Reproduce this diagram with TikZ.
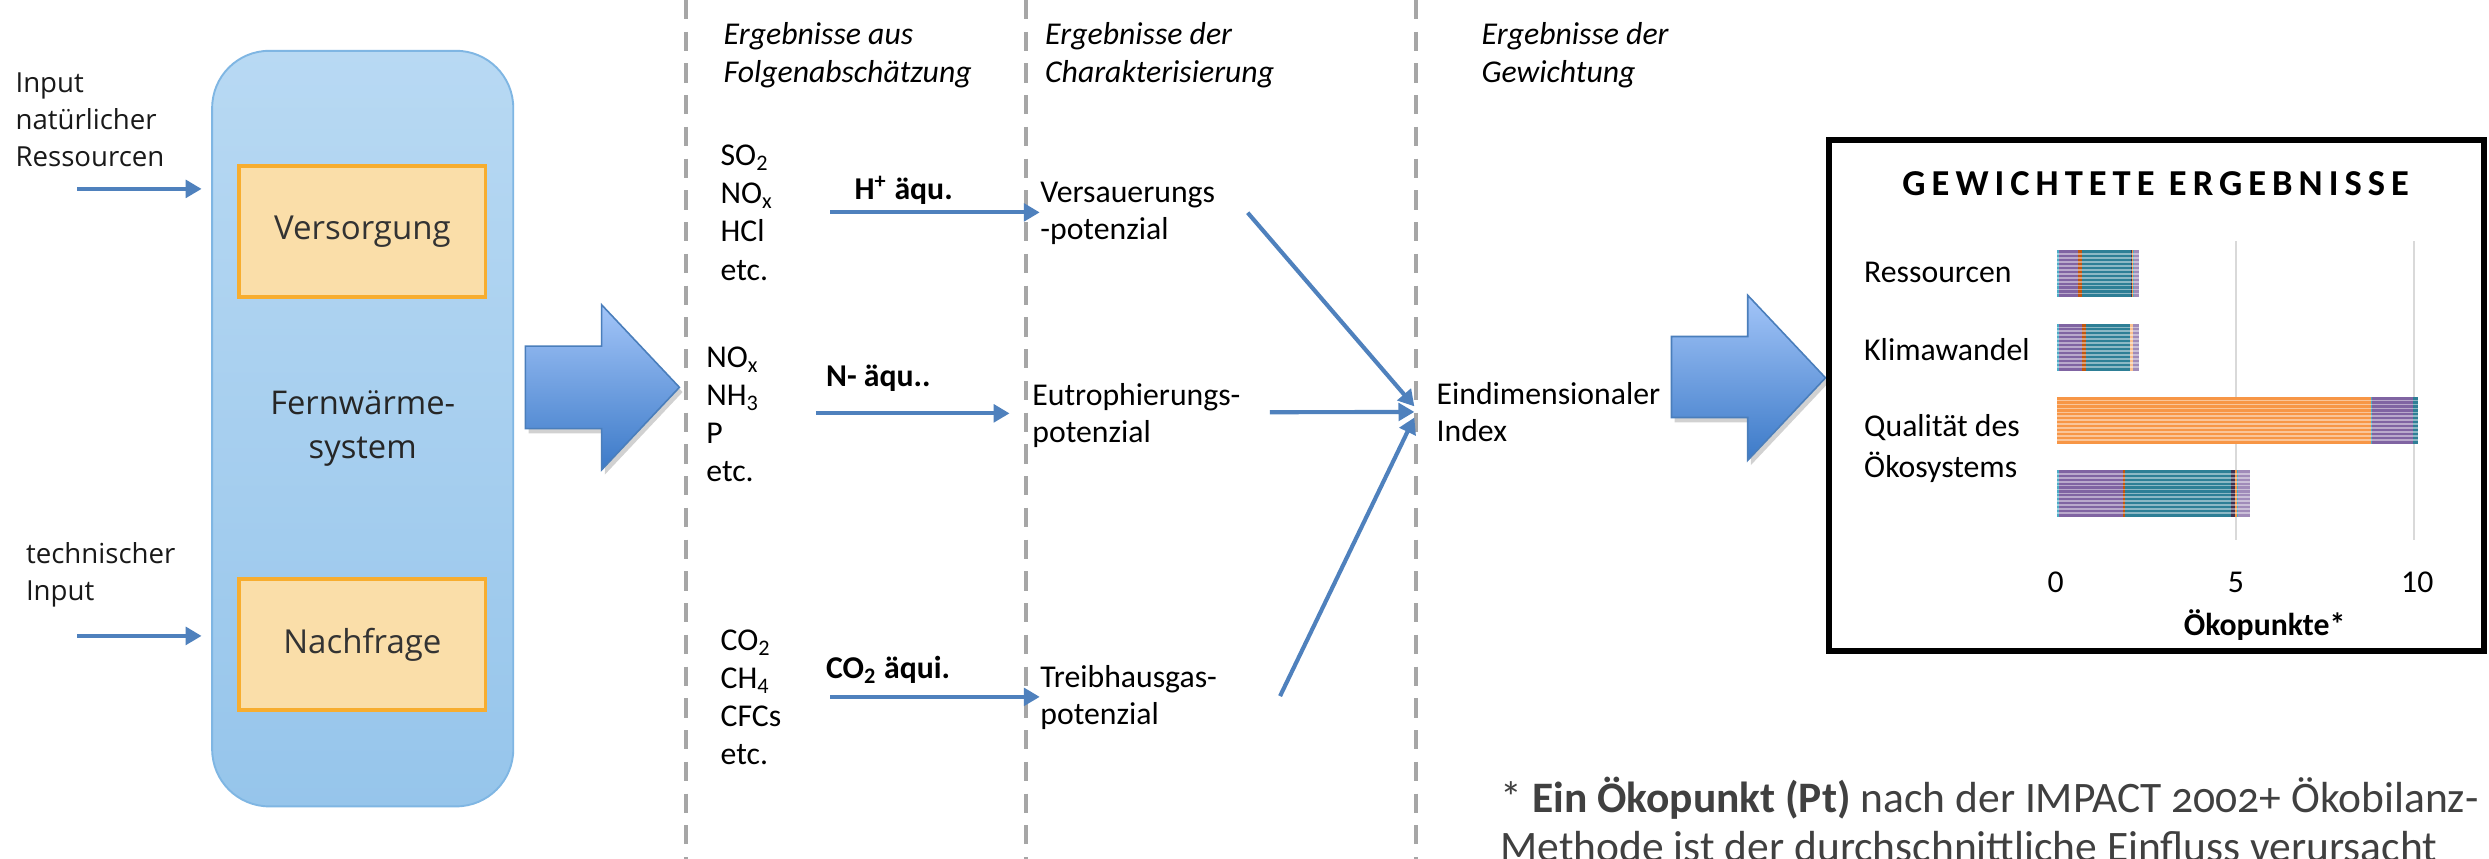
\documentclass[tikz,border=0pt]{standalone}
\usepackage{fontspec}
\setmainfont{Carlito}
\newfontfamily\leftfont{Open Sans}
\newfontfamily\fnfont[Numbers=OldStyle]{Carlito}
\usetikzlibrary{arrows.meta}

\definecolor{flowblue}{HTML}{4F81BD}
\definecolor{dashgray}{HTML}{A6A6A6}
\definecolor{sysTop}{HTML}{B8D9F3}
\definecolor{sysBot}{HTML}{96C5EB}
\definecolor{sysBorder}{HTML}{7FB6E3}
\definecolor{boxFill}{HTML}{FADEA9}
\definecolor{boxBorder}{HTML}{F7AD2F}
\definecolor{bigTop}{HTML}{A3C5F8}
\definecolor{bigBot}{HTML}{3C7AC8}
\definecolor{bigBorder}{HTML}{4A7EBB}
\definecolor{cPurple}{HTML}{8064A2}
\definecolor{cTeal}{HTML}{2E7F96}
\definecolor{cOrange}{HTML}{F79646}
\definecolor{cDarkOrange}{HTML}{C0560F}
\definecolor{cCyan}{HTML}{4BACC6}
\definecolor{cDarkPurple}{HTML}{3F3151}
\definecolor{cLightOrange}{HTML}{FAC08F}
\definecolor{gridgray}{HTML}{D9D9D9}
\definecolor{fngray}{HTML}{404040}

\tikzset{
  flow/.style={draw=flowblue, line width=1.3pt, -{Triangle[length=5pt,width=5.5pt]}},
  sepline/.style={draw=dashgray, line width=1.3pt, dash pattern=on 6pt off 4pt},
  txt/.style={inner sep=0pt, anchor=west, align=left, font=\fontsize{10}{12}\selectfont},
  txttwo/.style={inner sep=0pt, anchor=west, align=left, font=\fontsize{10}{11.7}\selectfont},
  head/.style={inner sep=0pt, anchor=west, align=left, font=\itshape\fontsize{10}{12}\selectfont},
  eqlabel/.style={inner sep=0pt, anchor=west, font=\bfseries\fontsize{10}{12}\selectfont},
  ltxt/.style={inner sep=0pt, anchor=west, align=left, font=\leftfont\fontsize{8.7}{11.7}\selectfont, text=black!90},
  orbox/.style={draw=boxBorder, line width=1.1pt, fill=boxFill, minimum width=77.7pt, minimum height=41.25pt, inner sep=0pt, font=\leftfont\fontsize{10.4}{12}\selectfont, text=black!80},
  sysbox/.style={draw=sysBorder, line width=0.6pt, top color=sysTop, bottom color=sysBot, rounded corners=18pt, minimum width=94.85pt, minimum height=238pt, inner sep=0pt, align=center, font=\leftfont\fontsize{10.3}{13.75}\selectfont, text=black!85},
  bigarrow/.style={top color=bigTop, bottom color=bigBot, draw=bigBorder, line width=0.5pt},
  arrowshadow/.style={fill=black, opacity=0.18},
  clabel/.style={inner sep=0pt, anchor=west, align=left, font=\fontsize{10}{12.75}\selectfont},
  tick/.style={inner sep=0pt, font=\fontsize{10}{12}\selectfont},
  stripe/.style={draw=white, opacity=0.45, line width=0.55pt},
  fntext/.style={inner sep=0pt, anchor=base west, font=\fnfont\fontsize{13.7}{16}\selectfont, text=fngray}
}

\newcommand\hbarseg[4]{\fill[#4] (#1,#3) rectangle (#2,#3+29.6);}

\begin{document}
\begin{tikzpicture}[x=0.5pt,y=-0.5pt]
\useasboundingbox (0,0) rectangle (1568,541);
\clip (0,0) rectangle (1568,541);
\fill[white] (0,0) rectangle (1568,541);

% separators
\draw[sepline] (432,0) -- (432,541);
\draw[sepline] (646.5,0) -- (646.5,541);
\draw[sepline] (892,0) -- (892,541);

% ---------------- left part
\node[sysbox] (sys) at (228.5,270) {Fernwärme-\\system};
\node[orbox] (vers) at (228.3,145.8) {Versorgung};
\node[orbox] (nach) at (228.3,406) {Nachfrage};

\node[ltxt] (inNat) at (9.4,75.4) {Input\\natürlicher\\Ressourcen};
\node[ltxt] (inTech) at (16,362) {technischer\\Input};
\coordinate (a1s) at (48.7,119);
\coordinate (a1e) at (127,119);
\coordinate (a2s) at (48.7,400.6);
\coordinate (a2e) at (127,400.6);
\draw[flow] (a1s) -- (a1e);
\draw[flow] (a2s) -- (a2e);

% big block arrow 1
\fill[arrowshadow] (333,221) -- (381,221) -- (381,195) -- (430,247) -- (381,299) -- (381,273) -- (333,273) -- cycle;
\shadedraw[bigarrow] (331,218) -- (379,218) -- (379,192) -- (428,244) -- (379,296) -- (379,270) -- (331,270) -- cycle;

% ---------------- column 1
\node[head] (h1) at (455.5,35) {Ergebnisse aus\\Folgenabschätzung};
\node[txt] (g1) at (453.6,134) {SO\textsubscript{2}\\NO\textsubscript{x}\\HCl\\etc.};
\node[txt] (g2) at (444.6,261) {NO\textsubscript{x}\\NH\textsubscript{3}\\P\\etc.};
\node[txt] (g3) at (453.6,439.5) {CO\textsubscript{2}\\CH\textsubscript{4}\\CFCs\\etc.};

\node[eqlabel] (l1) at (538,120) {H\textsuperscript{+} äqu.};
\node[eqlabel] (l2) at (520,238) {N- äqu..};
\node[eqlabel] (l3) at (520,422) {CO\textsubscript{2} äqui.};

\coordinate (e1s) at (523,133.8);
\coordinate (e2s) at (514,260.4);
\coordinate (e3s) at (523,439);

% ---------------- column 2
\node[head] (h2) at (658,35) {Ergebnisse der\\Charakterisierung};
\node[txttwo] (p1) at (655,134.5) {Versauerungs\\-potenzial};
\node[txttwo] (p2) at (650,261.5) {Eutrophierungs-\\potenzial};
\node[txttwo] (p3) at (655,439.3) {Treibhausgas-\\potenzial};

\draw[flow] (e1s) -- (p1.west |- e1s);
\draw[flow] (e2s) -- ([xshift=-7pt]p2.west |- e2s);
\draw[flow] (e3s) -- (p3.west |- e3s);

% ---------------- column 3
\node[head] (h3) at (933,35) {Ergebnisse der\\Gewichtung};
\node[txttwo] (idx) at (904.6,259.4) {Eindimensionaler\\Index};

\coordinate (c1s) at (786,134);
\coordinate (c2s) at (800,259.7);
\coordinate (c3s) at (806.4,438.5);
\coordinate (t1) at (891,256);
\coordinate (t2) at (891,259.5);
\coordinate (t3) at (891,263);
\draw[flow] (c1s) -- (t1);
\draw[flow] (c2s) -- (t2);
\draw[flow] (c3s) -- (t3);

% big block arrow 2
\fill[arrowshadow] (1055,215) -- (1103,215) -- (1103,189) -- (1152,241) -- (1103,293) -- (1103,266) -- (1055,266) -- cycle;
\shadedraw[bigarrow] (1053,212) -- (1101,212) -- (1101,186) -- (1150,238) -- (1101,290) -- (1101,263) -- (1053,263) -- cycle;

% ---------------- chart
\node[draw=black, line width=1.8pt, minimum width=206.5pt, minimum height=161pt, inner sep=0pt] (chart) at (1358.5,249) {};
\node[inner sep=0pt, font={\fontsize{11.5}{13}\selectfont\bfseries\addfontfeature{LetterSpace=16.5}}] (ctitle) at (1358,115.5) {GEWICHTETE ERGEBNISSE};

\draw[gridgray, line width=0.8pt] (1408.5,152) -- (1408.5,340);
\draw[gridgray, line width=0.8pt] (1520.6,152) -- (1520.6,340);

\begin{scope}[shift={(1296,0)}, x=11.23pt]
  % Ressourcen
  \hbarseg{0}{0.06}{157.7}{cCyan}
  \hbarseg{0.06}{0.57}{157.7}{cPurple}
  \hbarseg{0.57}{0.70}{157.7}{cDarkOrange}
  \hbarseg{0.70}{2.06}{157.7}{cTeal}
  \hbarseg{2.06}{2.09}{157.7}{cDarkPurple}
  \hbarseg{2.09}{2.12}{157.7}{cOrange}
  \hbarseg{2.12}{2.14}{157.7}{cCyan}
  \hbarseg{2.14}{2.28}{157.7}{cPurple!75}
  % Klimawandel
  \hbarseg{0}{0.06}{203.8}{cCyan}
  \hbarseg{0.06}{0.69}{203.8}{cPurple}
  \hbarseg{0.69}{0.80}{203.8}{cDarkOrange}
  \hbarseg{0.80}{2.03}{203.8}{cTeal}
  \hbarseg{2.03}{2.12}{203.8}{cLightOrange}
  \hbarseg{2.12}{2.29}{203.8}{cPurple!75}
  % Qualitaet
  \hbarseg{0}{8.79}{249.9}{cOrange}
  \hbarseg{8.79}{8.83}{249.9}{cCyan}
  \hbarseg{8.83}{9.97}{249.9}{cPurple}
  \hbarseg{9.97}{10.12}{249.9}{cTeal}
  % fourth bar
  \hbarseg{0}{0.06}{296}{cCyan}
  \hbarseg{0.06}{1.84}{296}{cPurple}
  \hbarseg{1.84}{1.89}{296}{cDarkOrange}
  \hbarseg{1.89}{4.87}{296}{cTeal}
  \hbarseg{4.87}{4.98}{296}{cDarkPurple}
  \hbarseg{4.98}{5.03}{296}{cOrange}
  \hbarseg{5.03}{5.08}{296}{cCyan}
  \hbarseg{5.08}{5.40}{296}{cPurple!75}
  \foreach \yb/\len in {157.7/2.28, 203.8/2.29, 249.9/10.12, 296/5.40}{
    \foreach \k in {1,...,11}{
      \draw[stripe] (0,\yb+\k*2.47) -- (\len,\yb+\k*2.47);
    }
  }
\end{scope}

\node[clabel] (lr) at (1174,171.7) {Ressourcen};
\node[clabel] (lk) at (1174,220) {Klimawandel};
\node[clabel] (lq) at (1174,282.7) {Qualität des\\Ökosystems};

\node[tick] (t0) at (1295,367) {0};
\node[tick] (t5) at (1408.5,367) {5};
\node[tick] (t10) at (1522.8,367) {10};
\node[tick, font=\bfseries\fontsize{10}{12}\selectfont] (xlab) at (1426.6,394) {Ökopunkte*};

% ---------------- footnote
\node[fntext] (fn1) at (945,512) {* \textbf{Ein Ökopunkt (Pt)} nach der IMPACT 2002+ Ökobilanz-};
\node[fntext] (fn2) at (945,543) {Methode ist der durchschnittliche Einfluss verursacht};
\end{tikzpicture}
\end{document}
